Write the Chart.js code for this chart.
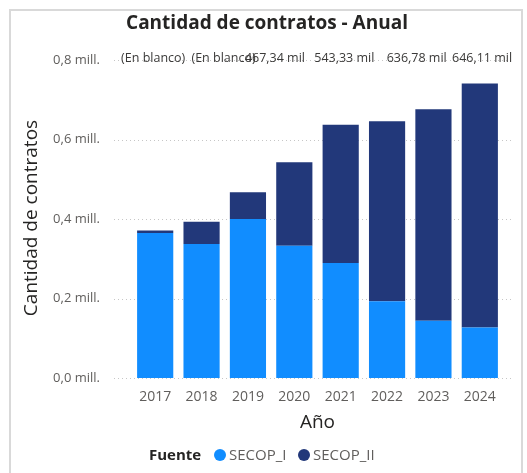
<!DOCTYPE html>
<html>
<head>
<meta charset="utf-8">
<script src="https://cdn.jsdelivr.net/npm/chart.js@4"></script>
<style>
  html, body { margin: 0; padding: 0; background: #fff; }
  .card { position: absolute; left: 9px; top: 9px; width: 510px; height: 480px; border: 2px solid #d9d9d9; border-bottom: none; }
  #chart { position: absolute; left: 0; top: 0; }
</style>
</head>
<body>
<div class="card"></div>
<canvas id="chart" width="527" height="473"></canvas>
<script>
// values in thousands of contracts
const years = ['2017', '2018', '2019', '2020', '2021', '2022', '2023', '2024'];
const secopI = [365, 337, 400, 333, 289, 193, 144, 127];
const secopII = [6, 56, 67, 210, 348, 453, 532, 614];
const totalLabels = ['(En blanco)', '(En blanco)', '467,34 mil', '543,33 mil', '636,78 mil', '646,11 mil'];
const yTicks = [0, 200, 400, 600, 800];

const FONT = '"Open Sans", "Liberation Sans", sans-serif';
const gray = '#605E5C';
const dark = '#252423';

const overlay = {
    id: 'overlay',
    beforeDatasetsDraw(chart) {
        const { ctx, chartArea, scales } = chart;
        ctx.save();
        ctx.strokeStyle = '#c6c6c6';
        ctx.lineWidth = 1;
        ctx.setLineDash([1, 3]);
        yTicks.forEach(v => {
            const y = Math.round(scales.y.getPixelForValue(v)) + 0.5;
            ctx.beginPath();
            ctx.moveTo(chartArea.left - 18, y);
            ctx.lineTo(chartArea.right + 10, y);
            ctx.stroke();
        });
        ctx.restore();
    },
    afterDraw(chart) {
        const { ctx, chartArea, scales } = chart;
        ctx.save();
        // title
        ctx.fillStyle = dark;
        ctx.font = 'bold 19px ' + FONT;
        ctx.textAlign = 'center';
        ctx.textBaseline = 'middle';
        ctx.fillText('Cantidad de contratos - Anual', 267, 24);

        // total labels (Power BI places them oddly)
        const shift = [-2, 22, 27, 50, 76, 95];
        ctx.font = '12.5px ' + FONT;
        ctx.fillStyle = '#3b3a39';
        totalLabels.forEach((t, i) => {
            ctx.fillText(t, scales.x.getPixelForValue(i) + shift[i], 58);
        });

        // axis titles
        ctx.fillStyle = dark;
        ctx.font = '19px ' + FONT;
        ctx.fillText('Año', (chartArea.left + chartArea.right) / 2, 423);
        ctx.save();
        ctx.translate(32, 218);
        ctx.rotate(-Math.PI / 2);
        ctx.fillText('Cantidad de contratos', 0, 0);
        ctx.restore();

        // legend
        ctx.textAlign = 'left';
        ctx.font = 'bold 15px ' + FONT;
        ctx.fillStyle = dark;
        ctx.fillText('Fuente', 149, 456);
        ctx.font = '15px ' + FONT;
        const items = [['SECOP_I', chart.data.datasets[0].backgroundColor, 220],
                       ['SECOP_II', chart.data.datasets[1].backgroundColor, 304]];
        items.forEach(([name, color, x]) => {
            ctx.fillStyle = color;
            ctx.beginPath();
            ctx.arc(x, 455, 6, 0, Math.PI * 2);
            ctx.fill();
            ctx.fillStyle = gray;
            ctx.fillText(name, x + 9, 456);
        });
        ctx.restore();
    }
};

new Chart(document.getElementById('chart'), {
    type: 'bar',
    data: {
        labels: years,
        datasets: [
            { label: 'SECOP_I', data: secopI, backgroundColor: '#118DFF', barPercentage: 0.78, categoryPercentage: 1 },
            { label: 'SECOP_II', data: secopII, backgroundColor: '#22387A', barPercentage: 0.78, categoryPercentage: 1 }
        ]
    },
    options: {
        responsive: false,
        animation: false,
        layout: { padding: { top: 60, right: 24, left: 0, bottom: 0 } },
        plugins: { legend: { display: false }, title: { display: false }, tooltip: { enabled: false } },
        scales: {
            x: {
                stacked: true,
                grid: { display: false },
                border: { display: false },
                ticks: { color: gray, font: { family: FONT, size: 14 }, padding: 3 },
                afterFit: s => { s.height = 95; }
            },
            y: {
                stacked: true,
                min: 0,
                max: 800,
                grid: { display: false },
                border: { display: false },
                ticks: {
                    stepSize: 200,
                    color: gray,
                    font: { family: FONT, size: 13 },
                    padding: 24,
                    callback: v => (v / 1000).toFixed(1).replace('.', ',') + ' mill.'
                },
                afterFit: s => { s.width = 132; }
            }
        }
    },
    plugins: [overlay]
});
</script>
</body>
</html>
